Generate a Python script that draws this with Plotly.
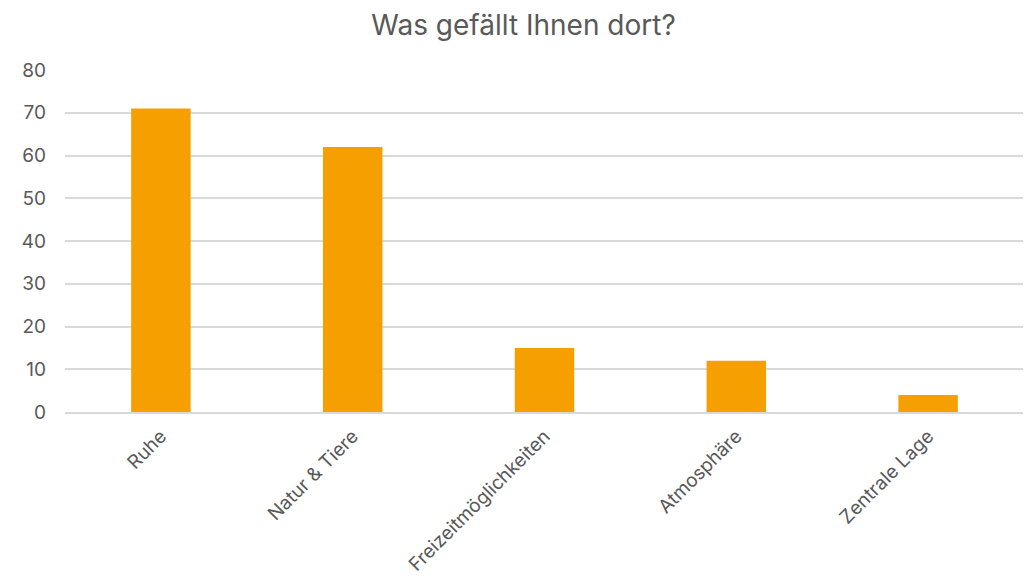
import plotly.graph_objects as go

categories = ["Ruhe", "Natur & Tiere", "Freizeitmöglichkeiten", "Atmosphäre", "Zentrale Lage"]
values = [71, 62, 15, 12, 4]
y_ticks = [0, 10, 20, 30, 40, 50, 60, 70, 80]

fig = go.Figure(go.Bar(x=categories, y=values, marker_color="#F5A000", width=0.31,
                       marker_line_width=0))

fig.update_layout(
    width=1031, height=583,
    margin=dict(l=57, r=15, t=62, b=179, autoexpand=False),
    paper_bgcolor="white", plot_bgcolor="white",
    font=dict(family="Inter", color="#595959", size=18),
    title=dict(text="Was gefällt Ihnen dort?", x=0.5, xanchor="center", y=0.97, yanchor="middle",
               font=dict(size=28, color="#595959")),
    showlegend=False,
)
fig.update_xaxes(tickangle=-45, showgrid=False, showline=True, linecolor="#D9D9D9", linewidth=1.5,
                 ticks="", automargin=False, ticklabelstandoff=4,
                 tickfont=dict(size=19, color="#595959"))
fig.update_yaxes(range=[0, 80], tickvals=y_ticks, showgrid=True, gridcolor="#D9D9D9", gridwidth=1.5,
                 zeroline=False, ticks="", automargin=False, ticklabelstandoff=18,
                 tickfont=dict(size=19, color="#595959"))

fig.write_html("out.html")
